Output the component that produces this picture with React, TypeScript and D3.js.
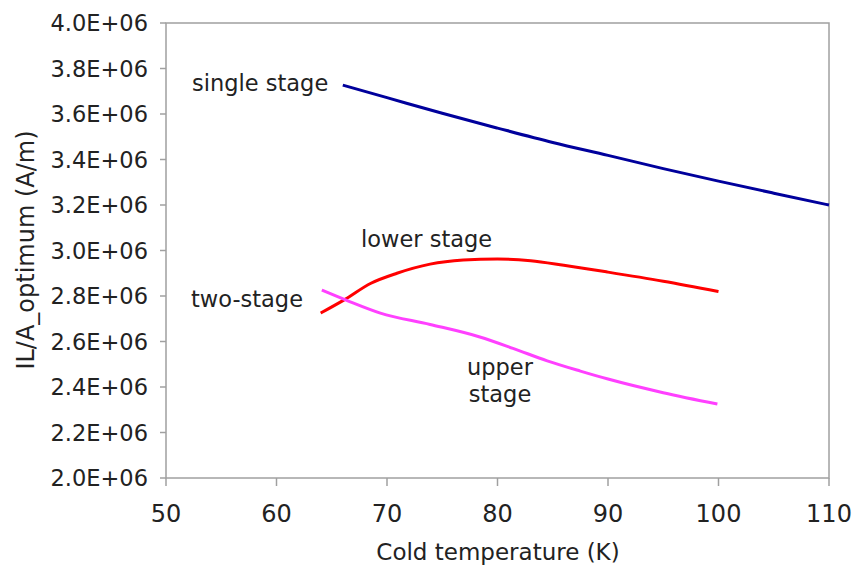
import React, { useEffect, useRef } from 'react';
import * as d3 from 'd3';

// data (values in millions of A/m)
const singleT = [66, 70, 75, 80, 85, 90, 95, 100, 105, 110];
const singleV = [3.727, 3.672, 3.603, 3.538, 3.475, 3.418, 3.36, 3.305, 3.252, 3.2];

const lowerT = [64, 66.2, 68.5, 70.9, 73.9, 76.9, 80, 83, 86, 90, 95, 100];
const lowerV = [2.725, 2.785, 2.855, 2.9, 2.94, 2.958, 2.963, 2.955, 2.935, 2.905, 2.865, 2.82];

const upperT = [64.1, 66.4, 69.4, 73.9, 78.4, 81.4, 84.5, 87.5, 90, 95, 99.9];
const upperV = [2.826, 2.78, 2.725, 2.675, 2.62, 2.57, 2.515, 2.47, 2.435, 2.375, 2.325];

const xTicks = [50, 60, 70, 80, 90, 100, 110];
const yTicks = [2.0, 2.2, 2.4, 2.6, 2.8, 3.0, 3.2, 3.4, 3.6, 3.8, 4.0];

const App = () => {
  const ref = useRef<SVGSVGElement>(null);

  useEffect(() => {
    const svg = d3.select(ref.current);
    svg.selectAll('*').remove();

    const font = '"DejaVu Sans", Verdana, sans-serif';
    const textColor = '#222';
    const frame = '#a0a0a0';
    const left = 166, right = 829, top = 23, bottom = 478;

    const x = d3.scaleLinear().domain([50, 110]).range([left, right]);
    const y = d3.scaleLinear().domain([2.0, 4.0]).range([bottom, top]);

    // frame
    svg.append('rect')
      .attr('x', left).attr('y', top)
      .attr('width', right - left).attr('height', bottom - top)
      .attr('fill', 'none').attr('stroke', frame).attr('stroke-width', 1.5);

    // y ticks
    const yAxis = svg.append('g');
    yAxis.selectAll('line').data(yTicks).enter().append('line')
      .attr('x1', left - 6).attr('x2', left)
      .attr('y1', d => y(d)).attr('y2', d => y(d))
      .attr('stroke', frame).attr('stroke-width', 1.5);
    yAxis.selectAll('text').data(yTicks).enter().append('text')
      .attr('x', 148).attr('y', d => y(d))
      .attr('dy', '0.36em')
      .attr('text-anchor', 'end')
      .attr('font-family', font).attr('font-size', 22.5)
      .attr('fill', textColor)
      .text(d => d.toFixed(1) + 'E+06');

    // x ticks
    const xAxis = svg.append('g');
    xAxis.selectAll('line').data(xTicks).enter().append('line')
      .attr('x1', d => x(d)).attr('x2', d => x(d))
      .attr('y1', bottom).attr('y2', bottom + 8)
      .attr('stroke', frame).attr('stroke-width', 1.5);
    xAxis.selectAll('text').data(xTicks).enter().append('text')
      .attr('x', d => x(d)).attr('y', 522)
      .attr('text-anchor', 'middle')
      .attr('font-family', font).attr('font-size', 24)
      .attr('fill', textColor)
      .text(d => d);

    // axis titles
    svg.append('text')
      .attr('x', 498).attr('y', 560)
      .attr('text-anchor', 'middle')
      .attr('font-family', font).attr('font-size', 23)
      .attr('fill', textColor)
      .text('Cold temperature (K)');
    svg.append('text')
      .attr('transform', 'translate(34,250) rotate(-90)')
      .attr('text-anchor', 'middle')
      .attr('font-family', font).attr('font-size', 24)
      .attr('fill', textColor)
      .text('IL/A_optimum (A/m)');

    const line = d3.line<[number, number]>()
      .x(d => x(d[0])).y(d => y(d[1]))
      .curve(d3.curveMonotoneX);

    const series = [
      { t: singleT, v: singleV, color: '#00009c' },
      { t: lowerT, v: lowerV, color: '#ff0000' },
      { t: upperT, v: upperV, color: '#ff40ff' },
    ];
    series.forEach(s => {
      const pts = s.t.map((t, i) => [t, s.v[i]] as [number, number]);
      svg.append('path')
        .attr('d', line(pts))
        .attr('fill', 'none')
        .attr('stroke', s.color)
        .attr('stroke-width', 3);
    });

    // annotations
    const labels = [
      { text: 'single stage', x: 192, y: 91, anchor: 'start' },
      { text: 'lower stage', x: 361, y: 247, anchor: 'start' },
      { text: 'two-stage', x: 191, y: 307, anchor: 'start' },
      { text: 'upper', x: 500, y: 375, anchor: 'middle' },
      { text: 'stage', x: 500, y: 402, anchor: 'middle' },
    ];
    svg.selectAll('.anno').data(labels).enter().append('text')
      .attr('class', 'anno')
      .attr('x', d => d.x).attr('y', d => d.y)
      .attr('text-anchor', d => d.anchor)
      .attr('font-family', font).attr('font-size', 22.5)
      .attr('fill', textColor)
      .text(d => d.text);
  }, []);

  return (
    <svg ref={ref} width={852} height={567}
      style={{ position: 'absolute', left: 0, top: 0, background: '#fff' }} />
  );
};

export default App;
